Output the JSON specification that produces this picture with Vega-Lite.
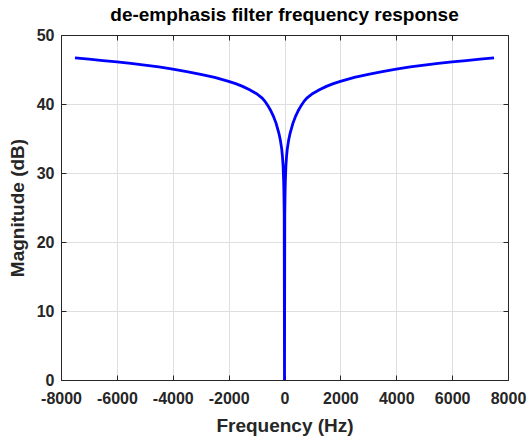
{
  "$schema": "https://vega.github.io/schema/vega-lite/v6.json",
  "width": 447,
  "height": 345,
  "autosize": {"type": "none"},
  "padding": {"left": 61, "top": 35, "right": 21, "bottom": 56},
  "background": "white",
  "config": {"font": "Liberation Sans", "view": {"stroke": null}},
  "title": {"text": "de-emphasis filter frequency response", "fontSize": 19, "fontWeight": "bold", "color": "#000000", "font": "Liberation Sans", "anchor": "middle", "baseline": "bottom", "offset": 8, "dy": 25},
  "data": {"values": [
    {"f": -7500, "db": 46.7}, {"f": -7000, "db": 46.5}, {"f": -6500, "db": 46.3}, {"f": -6000, "db": 46.1},
    {"f": -5500, "db": 45.88}, {"f": -5000, "db": 45.63}, {"f": -4500, "db": 45.37}, {"f": -4000, "db": 45.07},
    {"f": -3500, "db": 44.7}, {"f": -3000, "db": 44.3}, {"f": -2500, "db": 43.85}, {"f": -2000, "db": 43.28},
    {"f": -1750, "db": 42.95}, {"f": -1500, "db": 42.55}, {"f": -1250, "db": 42.05}, {"f": -1000, "db": 41.5},
    {"f": -800, "db": 40.85}, {"f": -700, "db": 40.4}, {"f": -600, "db": 39.8}, {"f": -500, "db": 39.1},
    {"f": -400, "db": 38.25}, {"f": -300, "db": 37.2}, {"f": -200, "db": 35.75}, {"f": -150, "db": 34.8},
    {"f": -100, "db": 33.5}, {"f": -75, "db": 32.5}, {"f": -50, "db": 31.0}, {"f": -30, "db": 28.8},
    {"f": -20, "db": 27.0}, {"f": -10, "db": 24.0}, {"f": 0, "db": 0},
    {"f": 10, "db": 24.0}, {"f": 20, "db": 27.0}, {"f": 30, "db": 28.8}, {"f": 50, "db": 31.0},
    {"f": 75, "db": 32.5}, {"f": 100, "db": 33.5}, {"f": 150, "db": 34.8}, {"f": 200, "db": 35.75},
    {"f": 300, "db": 37.2}, {"f": 400, "db": 38.25}, {"f": 500, "db": 39.1}, {"f": 600, "db": 39.8},
    {"f": 700, "db": 40.4}, {"f": 800, "db": 40.85}, {"f": 1000, "db": 41.5}, {"f": 1250, "db": 42.05},
    {"f": 1500, "db": 42.55}, {"f": 1750, "db": 42.95}, {"f": 2000, "db": 43.28}, {"f": 2500, "db": 43.85},
    {"f": 3000, "db": 44.3}, {"f": 3500, "db": 44.7}, {"f": 4000, "db": 45.07}, {"f": 4500, "db": 45.37},
    {"f": 5000, "db": 45.63}, {"f": 5500, "db": 45.88}, {"f": 6000, "db": 46.1}, {"f": 6500, "db": 46.3},
    {"f": 7000, "db": 46.5}, {"f": 7500, "db": 46.7}
  ]},
  "layer": [
    {
      "mark": {"type": "line", "color": "#0000ff", "strokeWidth": 2.8, "clip": true},
      "encoding": {
        "x": {"field": "f", "type": "quantitative",
          "scale": {"domain": [-8000, 8000], "nice": false, "zero": false},
          "axis": {"orient": "bottom", "values": [-8000, -6000, -4000, -2000, 0, 2000, 4000, 6000, 8000],
            "labelExpr": "datum.value + ''", "title": "Frequency (Hz)",
            "titleFontSize": 19, "titleFontWeight": "bold", "titleColor": "#262626", "titlePadding": 10,
            "labelFontSize": 16, "labelFontWeight": "bold", "labelColor": "#262626", "labelPadding": 15,
            "labelFlush": false, "labelOverlap": false,
            "tickSize": -5, "tickColor": "#262626", "domainColor": "#262626",
            "grid": true, "gridColor": "#dfdfdf"}},
        "y": {"field": "db", "type": "quantitative",
          "scale": {"domain": [0, 50], "nice": false},
          "axis": {"orient": "left", "values": [0, 10, 20, 30, 40, 50],
            "labelExpr": "datum.value + ''", "title": "Magnitude (dB)",
            "titleFontSize": 19, "titleFontWeight": "bold", "titleColor": "#262626", "titlePadding": 9,
            "labelFontSize": 16, "labelFontWeight": "bold", "labelColor": "#262626", "labelPadding": 12,
            "labelFlush": false, "labelOverlap": false,
            "tickSize": -5, "tickColor": "#262626", "domainColor": "#262626",
            "grid": true, "gridColor": "#dfdfdf"}}
      }
    },
    {
      "mark": {"type": "line", "opacity": 0},
      "encoding": {
        "x": {"field": "f", "type": "quantitative",
          "scale": {"domain": [-8000, 8000], "nice": false, "zero": false},
          "axis": {"orient": "top", "values": [-8000, -6000, -4000, -2000, 0, 2000, 4000, 6000, 8000],
            "labels": false, "title": null, "grid": false,
            "tickSize": -5, "tickColor": "#262626", "domainColor": "#262626"}},
        "y": {"field": "db", "type": "quantitative",
          "scale": {"domain": [0, 50], "nice": false},
          "axis": {"orient": "right", "values": [0, 10, 20, 30, 40, 50],
            "labels": false, "title": null, "grid": false,
            "tickSize": -5, "tickColor": "#262626", "domainColor": "#262626"}}
      }
    }
  ],
  "resolve": {"axis": {"x": "independent", "y": "independent"}}
}
